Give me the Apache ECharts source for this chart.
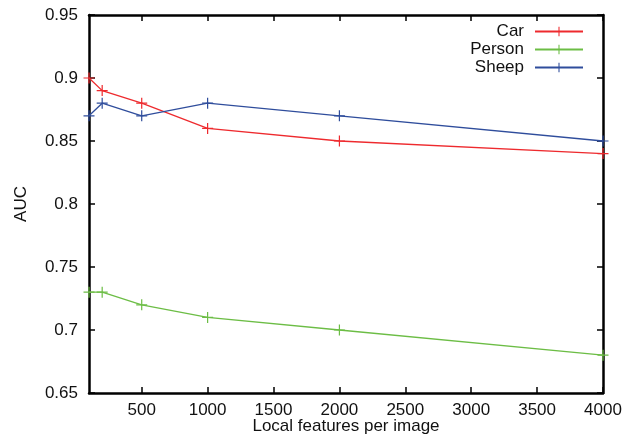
<!DOCTYPE html>
<html>
<head>
<meta charset="utf-8">
<script src="https://cdn.jsdelivr.net/npm/echarts@6/dist/echarts.min.js"></script>
<style>
  html, body { margin: 0; padding: 0; background: #fff; }
  #chart { width: 627px; height: 437px; }
</style>
</head>
<body>
<div id="chart"></div>
<script>
// data
const features = [100, 200, 500, 1000, 2000, 4000];
const car = [0.90, 0.89, 0.88, 0.86, 0.85, 0.84];
const person = [0.73, 0.73, 0.72, 0.71, 0.70, 0.68];
const sheep = [0.87, 0.88, 0.87, 0.88, 0.87, 0.85];
const xTicks = [500, 1000, 1500, 2000, 2500, 3000, 3500, 4000];
const yTicks = [0.65, 0.7, 0.75, 0.8, 0.85, 0.9, 0.95];

const font = 'Liberation Sans, Arial, Helvetica, sans-serif';
const plus = 'path://M0,4.45H10V5.55H0Z M4.45,0H5.55V10H4.45Z';

const chart = echarts.init(document.getElementById('chart'));

function pairs(ys) {
  return features.map((x, i) => [x, ys[i]]);
}

function makeSeries(name, ys, color) {
  return {
    name,
    type: 'line',
    data: pairs(ys),
    symbol: plus,
    symbolSize: 11,
    showAllSymbol: true,
    clip: false,
    lineStyle: { color, width: 1.3 },
    itemStyle: { color },
    emphasis: { disabled: true },
    animation: false
  };
}

const axisLine = { show: true, lineStyle: { color: '#000', width: 2.5 } };
const tick = { show: true, inside: true, length: 6, lineStyle: { color: '#000', width: 1.5 } };

chart.setOption({
  backgroundColor: '#fff',
  animation: false,
  grid: { left: 89, right: 24, top: 15, bottom: 44, containLabel: false, outerBoundsMode: 'none' },
  legend: {
    orient: 'vertical',
    right: 38,
    top: 18,
    align: 'right',
    itemWidth: 48,
    itemHeight: 12,
    itemGap: 1,
    textStyle: { fontFamily: font, fontSize: 17, color: '#111', padding: [0, 6, 0, 0] },
    data: ['Car', 'Person', 'Sheep']
  },
  xAxis: [
    {
      type: 'value',
      min: 100,
      max: 4000,
      name: 'Local features per image',
      nameLocation: 'middle',
      nameGap: 25,
      nameMoveOverlap: false,
      nameTextStyle: { fontFamily: font, fontSize: 17, color: '#111' },
      axisLine,
      axisTick: Object.assign({ customValues: xTicks }, tick),
      axisLabel: {
        customValues: xTicks,
        fontFamily: font,
        fontSize: 17,
        color: '#111',
        margin: 9,
        formatter: v => String(v)
      },
      splitLine: { show: false }
    },
    {
      type: 'value',
      position: 'top',
      min: 100,
      max: 4000,
      axisLine,
      axisTick: Object.assign({ customValues: xTicks }, tick),
      axisLabel: { show: false, customValues: xTicks },
      splitLine: { show: false }
    }
  ],
  yAxis: [
    {
      type: 'value',
      min: 0.65,
      max: 0.95,
      name: 'AUC',
      nameLocation: 'middle',
      nameGap: 59,
      nameMoveOverlap: false,
      nameTextStyle: { fontFamily: font, fontSize: 17, color: '#111' },
      axisLine,
      axisTick: Object.assign({ customValues: yTicks }, tick),
      axisLabel: {
        customValues: yTicks,
        fontFamily: font,
        fontSize: 17,
        color: '#111',
        margin: 11,
        formatter: v => String(+v.toFixed(2))
      },
      splitLine: { show: false }
    },
    {
      type: 'value',
      position: 'right',
      min: 0.65,
      max: 0.95,
      axisLine,
      axisTick: Object.assign({ customValues: yTicks }, tick),
      axisLabel: { show: false, customValues: yTicks },
      splitLine: { show: false }
    }
  ],
  series: [
    makeSeries('Car', car, '#ee2a2e'),
    makeSeries('Person', person, '#6cbd45'),
    makeSeries('Sheep', sheep, '#2f4d9c')
  ]
});
</script>
</body>
</html>
